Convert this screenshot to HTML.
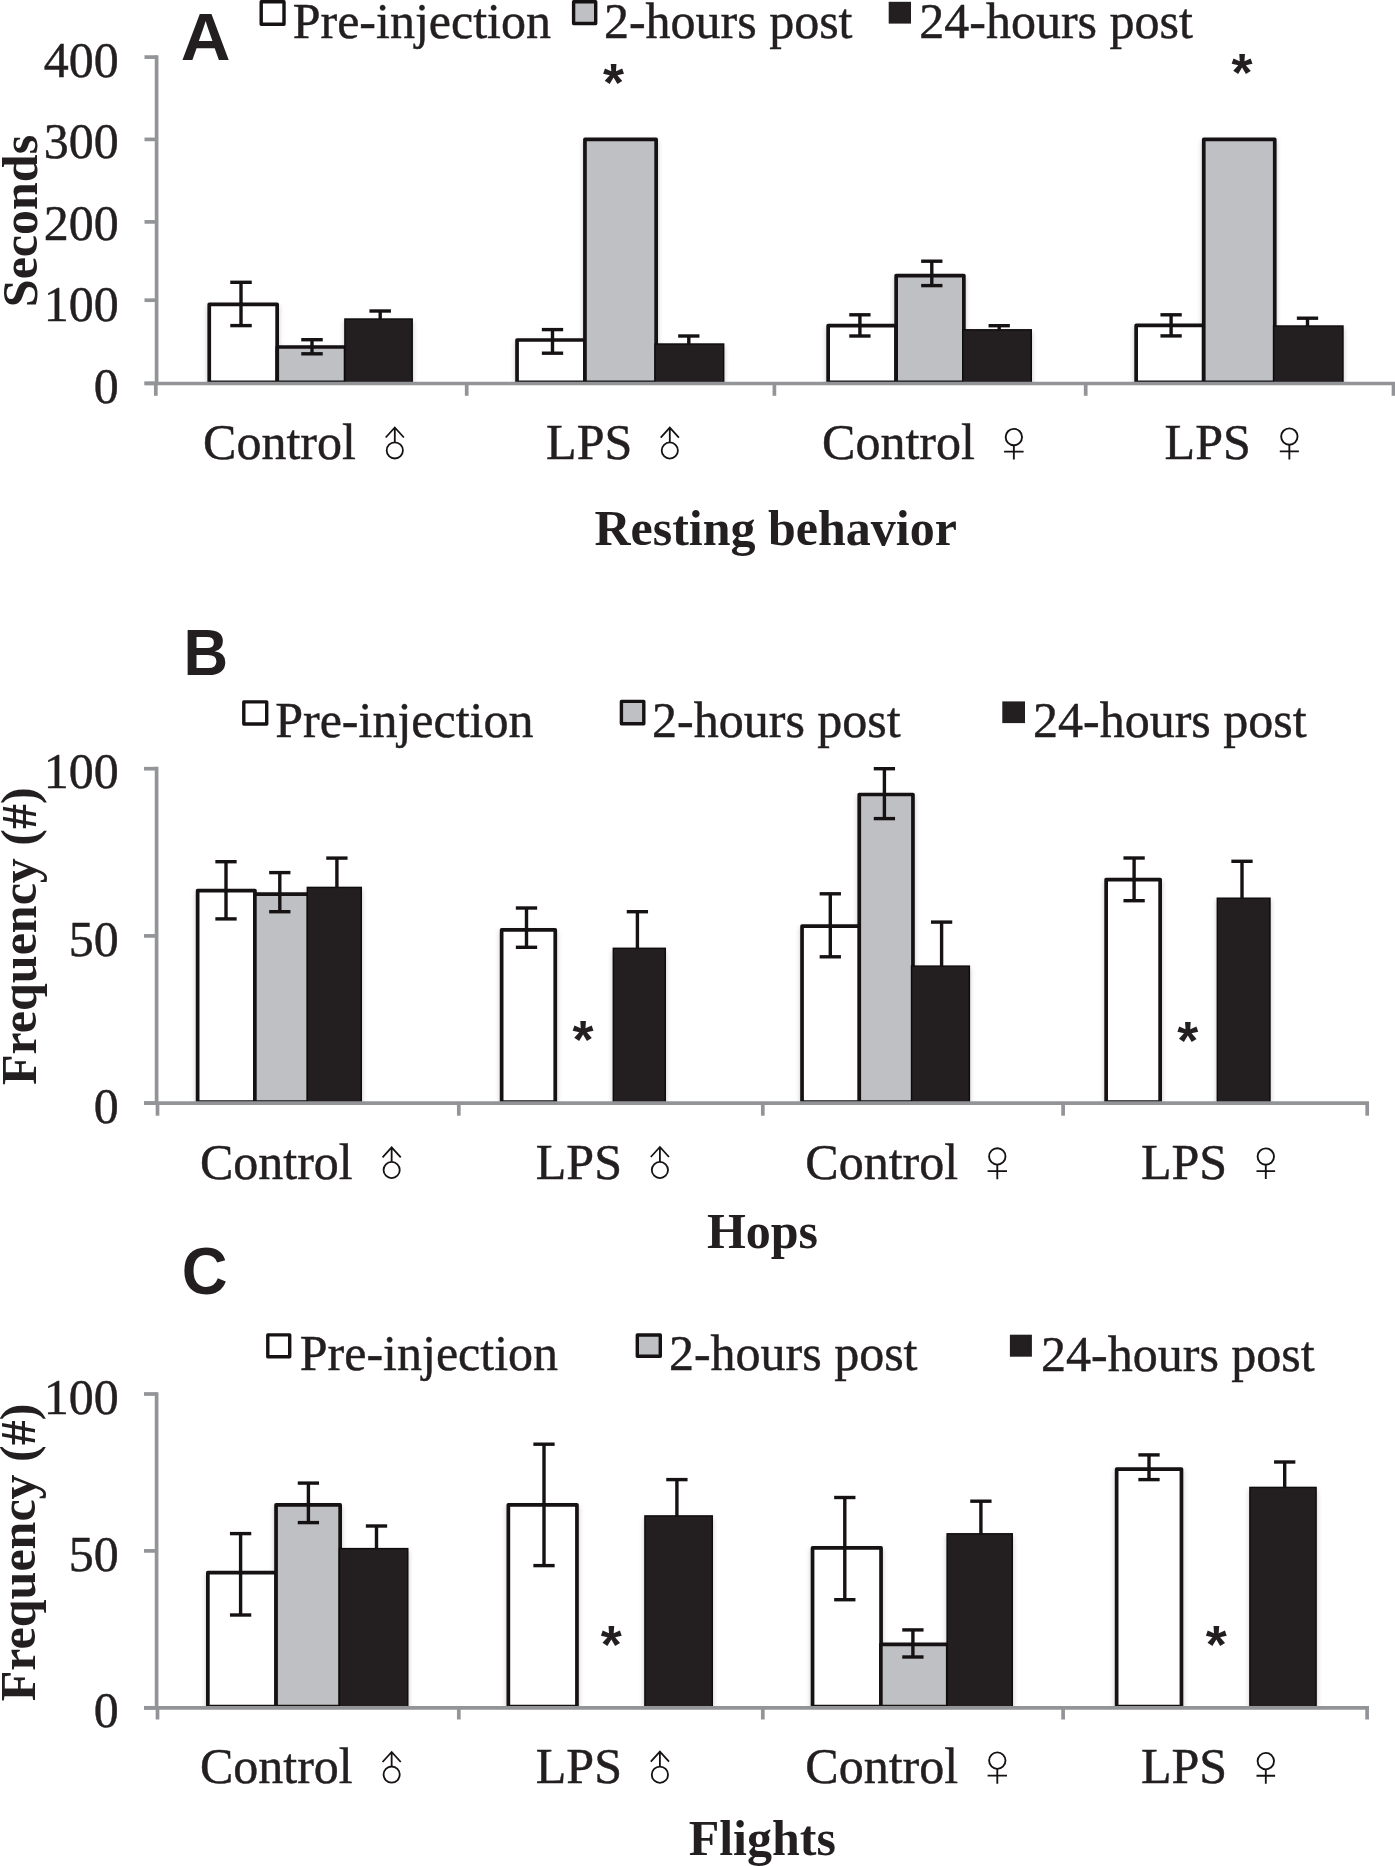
<!DOCTYPE html>
<html><head><meta charset="utf-8"><title>Sickness behavior figure</title>
<style>
html,body{margin:0;padding:0;background:#fff;}
body{width:1395px;height:1866px;overflow:hidden;font-family:"Liberation Serif",serif;}
svg{display:block;}
</style></head>
<body>
<svg width="1395" height="1866" viewBox="0 0 1395 1866">
<defs><filter id="sh" x="-10%" y="-10%" width="120%" height="120%"><feGaussianBlur stdDeviation="2.6"/></filter>
<clipPath id="shc"><rect x="0" y="0" width="1395" height="383"/><rect x="0" y="600" width="1395" height="502.5"/><rect x="0" y="1250" width="1395" height="457.3"/></clipPath></defs>
<rect x="0" y="0" width="1395" height="1866" fill="#ffffff"/>
<g clip-path="url(#shc)"><g filter="url(#sh)" fill="#000" fill-opacity="0.22"><rect x="207.40" y="305.45" width="71.60" height="79.95"/>
<rect x="275.40" y="348.15" width="72.00" height="37.25"/>
<rect x="344.20" y="321.30" width="68.70" height="65.95"/>
<rect x="515.20" y="341.15" width="71.50" height="44.25"/>
<rect x="583.10" y="140.55" width="74.90" height="244.85"/>
<rect x="654.30" y="346.30" width="70.10" height="40.95"/>
<rect x="826.30" y="326.85" width="71.60" height="58.55"/>
<rect x="894.30" y="276.75" width="71.40" height="108.65"/>
<rect x="962.00" y="332.10" width="70.00" height="55.15"/>
<rect x="1134.30" y="326.55" width="71.20" height="58.85"/>
<rect x="1201.90" y="140.55" width="74.70" height="244.85"/>
<rect x="1272.90" y="328.30" width="70.80" height="58.95"/>
<rect x="195.80" y="891.75" width="61.00" height="213.25"/>
<rect x="253.00" y="895.35" width="57.30" height="209.65"/>
<rect x="306.60" y="889.70" width="55.40" height="217.15"/>
<rect x="499.80" y="930.95" width="57.30" height="174.05"/>
<rect x="612.60" y="950.60" width="53.40" height="156.25"/>
<rect x="800.20" y="927.35" width="61.30" height="177.65"/>
<rect x="857.40" y="795.65" width="57.40" height="309.35"/>
<rect x="910.80" y="968.40" width="59.30" height="138.45"/>
<rect x="1104.30" y="880.75" width="57.70" height="224.25"/>
<rect x="1216.60" y="900.50" width="54.10" height="206.35"/>
<rect x="206.00" y="1573.85" width="72.00" height="135.85"/>
<rect x="274.20" y="1506.05" width="67.80" height="203.65"/>
<rect x="338.70" y="1550.90" width="69.80" height="160.65"/>
<rect x="506.50" y="1505.95" width="72.30" height="203.75"/>
<rect x="644.20" y="1518.20" width="68.80" height="193.35"/>
<rect x="810.70" y="1549.05" width="72.20" height="160.65"/>
<rect x="879.00" y="1645.45" width="70.60" height="64.25"/>
<rect x="946.40" y="1536.10" width="66.60" height="175.45"/>
<rect x="1114.80" y="1470.25" width="68.50" height="239.45"/>
<rect x="1249.20" y="1489.70" width="67.60" height="221.85"/></g></g>
<rect x="209.25" y="304.30" width="67.90" height="78.10" fill="#ffffff" stroke="#161213" stroke-width="3.7" stroke-linejoin="round"/>
<rect x="277.25" y="347.00" width="68.30" height="35.40" fill="#bfc0c3" stroke="#161213" stroke-width="3.7" stroke-linejoin="round"/>
<rect x="344.90" y="319.00" width="67.30" height="64.55" fill="#231f20" stroke="#0e0b0c" stroke-width="1.4"/>
<rect x="517.05" y="340.00" width="67.80" height="42.40" fill="#ffffff" stroke="#161213" stroke-width="3.7" stroke-linejoin="round"/>
<rect x="584.95" y="139.40" width="71.20" height="243.00" fill="#bfc0c3" stroke="#161213" stroke-width="3.7" stroke-linejoin="round"/>
<rect x="655.00" y="344.00" width="68.70" height="39.55" fill="#231f20" stroke="#0e0b0c" stroke-width="1.4"/>
<rect x="828.15" y="325.70" width="67.90" height="56.70" fill="#ffffff" stroke="#161213" stroke-width="3.7" stroke-linejoin="round"/>
<rect x="896.15" y="275.60" width="67.70" height="106.80" fill="#bfc0c3" stroke="#161213" stroke-width="3.7" stroke-linejoin="round"/>
<rect x="962.70" y="329.80" width="68.60" height="53.75" fill="#231f20" stroke="#0e0b0c" stroke-width="1.4"/>
<rect x="1136.15" y="325.40" width="67.50" height="57.00" fill="#ffffff" stroke="#161213" stroke-width="3.7" stroke-linejoin="round"/>
<rect x="1203.75" y="139.40" width="71.00" height="243.00" fill="#bfc0c3" stroke="#161213" stroke-width="3.7" stroke-linejoin="round"/>
<rect x="1273.60" y="326.00" width="69.40" height="57.55" fill="#231f20" stroke="#0e0b0c" stroke-width="1.4"/>
<rect x="197.65" y="890.60" width="57.30" height="211.40" fill="#ffffff" stroke="#161213" stroke-width="3.7" stroke-linejoin="round"/>
<rect x="254.85" y="894.20" width="53.60" height="207.80" fill="#bfc0c3" stroke="#161213" stroke-width="3.7" stroke-linejoin="round"/>
<rect x="307.30" y="887.40" width="54.00" height="215.75" fill="#231f20" stroke="#0e0b0c" stroke-width="1.4"/>
<rect x="501.65" y="929.80" width="53.60" height="172.20" fill="#ffffff" stroke="#161213" stroke-width="3.7" stroke-linejoin="round"/>
<rect x="613.30" y="948.30" width="52.00" height="154.85" fill="#231f20" stroke="#0e0b0c" stroke-width="1.4"/>
<rect x="802.05" y="926.20" width="57.60" height="175.80" fill="#ffffff" stroke="#161213" stroke-width="3.7" stroke-linejoin="round"/>
<rect x="859.25" y="794.50" width="53.70" height="307.50" fill="#bfc0c3" stroke="#161213" stroke-width="3.7" stroke-linejoin="round"/>
<rect x="911.50" y="966.10" width="57.90" height="137.05" fill="#231f20" stroke="#0e0b0c" stroke-width="1.4"/>
<rect x="1106.15" y="879.60" width="54.00" height="222.40" fill="#ffffff" stroke="#161213" stroke-width="3.7" stroke-linejoin="round"/>
<rect x="1217.30" y="898.20" width="52.70" height="204.95" fill="#231f20" stroke="#0e0b0c" stroke-width="1.4"/>
<rect x="207.85" y="1572.70" width="68.30" height="134.00" fill="#ffffff" stroke="#161213" stroke-width="3.7" stroke-linejoin="round"/>
<rect x="276.05" y="1504.90" width="64.10" height="201.80" fill="#bfc0c3" stroke="#161213" stroke-width="3.7" stroke-linejoin="round"/>
<rect x="339.40" y="1548.60" width="68.40" height="159.25" fill="#231f20" stroke="#0e0b0c" stroke-width="1.4"/>
<rect x="508.35" y="1504.80" width="68.60" height="201.90" fill="#ffffff" stroke="#161213" stroke-width="3.7" stroke-linejoin="round"/>
<rect x="644.90" y="1515.90" width="67.40" height="191.95" fill="#231f20" stroke="#0e0b0c" stroke-width="1.4"/>
<rect x="812.55" y="1547.90" width="68.50" height="158.80" fill="#ffffff" stroke="#161213" stroke-width="3.7" stroke-linejoin="round"/>
<rect x="880.85" y="1644.30" width="66.90" height="62.40" fill="#bfc0c3" stroke="#161213" stroke-width="3.7" stroke-linejoin="round"/>
<rect x="947.10" y="1533.80" width="65.20" height="174.05" fill="#231f20" stroke="#0e0b0c" stroke-width="1.4"/>
<rect x="1116.65" y="1469.10" width="64.80" height="237.60" fill="#ffffff" stroke="#161213" stroke-width="3.7" stroke-linejoin="round"/>
<rect x="1249.90" y="1487.40" width="66.20" height="220.45" fill="#231f20" stroke="#0e0b0c" stroke-width="1.4"/>
<line x1="156.60" y1="55.25" x2="156.60" y2="383.50" stroke="#939497" stroke-width="3.7" stroke-linecap="butt"/>
<line x1="144.50" y1="57.10" x2="156.60" y2="57.10" stroke="#939497" stroke-width="3.7" stroke-linecap="butt"/>
<line x1="144.50" y1="139.40" x2="156.60" y2="139.40" stroke="#939497" stroke-width="3.7" stroke-linecap="butt"/>
<line x1="144.50" y1="221.90" x2="156.60" y2="221.90" stroke="#939497" stroke-width="3.7" stroke-linecap="butt"/>
<line x1="144.50" y1="300.20" x2="156.60" y2="300.20" stroke="#939497" stroke-width="3.7" stroke-linecap="butt"/>
<line x1="144.50" y1="383.30" x2="156.60" y2="383.30" stroke="#939497" stroke-width="3.7" stroke-linecap="butt"/>
<line x1="144.50" y1="383.50" x2="1395.00" y2="383.50" stroke="#939497" stroke-width="3.7" stroke-linecap="butt"/>
<line x1="155.80" y1="383.50" x2="155.80" y2="395.80" stroke="#939497" stroke-width="3.7" stroke-linecap="butt"/>
<line x1="466.70" y1="383.50" x2="466.70" y2="395.80" stroke="#939497" stroke-width="3.7" stroke-linecap="butt"/>
<line x1="774.40" y1="383.50" x2="774.40" y2="395.80" stroke="#939497" stroke-width="3.7" stroke-linecap="butt"/>
<line x1="1085.70" y1="383.50" x2="1085.70" y2="395.80" stroke="#939497" stroke-width="3.7" stroke-linecap="butt"/>
<line x1="1393.50" y1="383.50" x2="1393.50" y2="395.80" stroke="#939497" stroke-width="3.7" stroke-linecap="butt"/>
<line x1="156.60" y1="766.85" x2="156.60" y2="1103.10" stroke="#939497" stroke-width="3.7" stroke-linecap="butt"/>
<line x1="144.00" y1="768.70" x2="156.60" y2="768.70" stroke="#939497" stroke-width="3.7" stroke-linecap="butt"/>
<line x1="144.00" y1="935.90" x2="156.60" y2="935.90" stroke="#939497" stroke-width="3.7" stroke-linecap="butt"/>
<line x1="144.00" y1="1103.10" x2="156.60" y2="1103.10" stroke="#939497" stroke-width="3.7" stroke-linecap="butt"/>
<line x1="144.00" y1="1103.10" x2="1369.00" y2="1103.10" stroke="#939497" stroke-width="3.7" stroke-linecap="butt"/>
<line x1="157.50" y1="1103.10" x2="157.50" y2="1115.70" stroke="#939497" stroke-width="3.7" stroke-linecap="butt"/>
<line x1="458.80" y1="1103.10" x2="458.80" y2="1115.70" stroke="#939497" stroke-width="3.7" stroke-linecap="butt"/>
<line x1="762.80" y1="1103.10" x2="762.80" y2="1115.70" stroke="#939497" stroke-width="3.7" stroke-linecap="butt"/>
<line x1="1063.10" y1="1103.10" x2="1063.10" y2="1115.70" stroke="#939497" stroke-width="3.7" stroke-linecap="butt"/>
<line x1="1367.20" y1="1103.10" x2="1367.20" y2="1115.70" stroke="#939497" stroke-width="3.7" stroke-linecap="butt"/>
<line x1="156.60" y1="1392.15" x2="156.60" y2="1707.80" stroke="#939497" stroke-width="3.7" stroke-linecap="butt"/>
<line x1="144.00" y1="1394.00" x2="156.60" y2="1394.00" stroke="#939497" stroke-width="3.7" stroke-linecap="butt"/>
<line x1="144.00" y1="1550.90" x2="156.60" y2="1550.90" stroke="#939497" stroke-width="3.7" stroke-linecap="butt"/>
<line x1="144.00" y1="1707.80" x2="156.60" y2="1707.80" stroke="#939497" stroke-width="3.7" stroke-linecap="butt"/>
<line x1="144.00" y1="1707.80" x2="1369.00" y2="1707.80" stroke="#939497" stroke-width="3.7" stroke-linecap="butt"/>
<line x1="157.50" y1="1707.80" x2="157.50" y2="1719.50" stroke="#939497" stroke-width="3.7" stroke-linecap="butt"/>
<line x1="458.80" y1="1707.80" x2="458.80" y2="1719.50" stroke="#939497" stroke-width="3.7" stroke-linecap="butt"/>
<line x1="762.80" y1="1707.80" x2="762.80" y2="1719.50" stroke="#939497" stroke-width="3.7" stroke-linecap="butt"/>
<line x1="1063.10" y1="1707.80" x2="1063.10" y2="1719.50" stroke="#939497" stroke-width="3.7" stroke-linecap="butt"/>
<line x1="1367.10" y1="1707.80" x2="1367.10" y2="1719.50" stroke="#939497" stroke-width="3.7" stroke-linecap="butt"/>
<text x="118.80" y="76.60" font-family="Liberation Serif" font-size="50" font-weight="normal" text-anchor="end" fill="#231f20" stroke="#231f20" stroke-width="0.45">400</text>
<text x="118.80" y="158.10" font-family="Liberation Serif" font-size="50" font-weight="normal" text-anchor="end" fill="#231f20" stroke="#231f20" stroke-width="0.45">300</text>
<text x="118.80" y="239.60" font-family="Liberation Serif" font-size="50" font-weight="normal" text-anchor="end" fill="#231f20" stroke="#231f20" stroke-width="0.45">200</text>
<text x="118.80" y="321.10" font-family="Liberation Serif" font-size="50" font-weight="normal" text-anchor="end" fill="#231f20" stroke="#231f20" stroke-width="0.45">100</text>
<text x="118.80" y="403.10" font-family="Liberation Serif" font-size="50" font-weight="normal" text-anchor="end" fill="#231f20" stroke="#231f20" stroke-width="0.45">0</text>
<line x1="241.00" y1="282.30" x2="241.00" y2="325.60" stroke="#161213" stroke-width="3.4" stroke-linecap="butt"/>
<line x1="230.25" y1="282.30" x2="251.75" y2="282.30" stroke="#161213" stroke-width="3.4" stroke-linecap="butt"/>
<line x1="230.25" y1="325.60" x2="251.75" y2="325.60" stroke="#161213" stroke-width="3.4" stroke-linecap="butt"/>
<line x1="312.00" y1="339.70" x2="312.00" y2="353.80" stroke="#161213" stroke-width="3.4" stroke-linecap="butt"/>
<line x1="301.25" y1="339.70" x2="322.75" y2="339.70" stroke="#161213" stroke-width="3.4" stroke-linecap="butt"/>
<line x1="301.25" y1="353.80" x2="322.75" y2="353.80" stroke="#161213" stroke-width="3.4" stroke-linecap="butt"/>
<line x1="380.20" y1="311.00" x2="380.20" y2="319.80" stroke="#161213" stroke-width="3.4" stroke-linecap="butt"/>
<line x1="369.45" y1="311.00" x2="390.95" y2="311.00" stroke="#161213" stroke-width="3.4" stroke-linecap="butt"/>
<line x1="552.50" y1="329.60" x2="552.50" y2="353.20" stroke="#161213" stroke-width="3.4" stroke-linecap="butt"/>
<line x1="541.85" y1="329.60" x2="563.15" y2="329.60" stroke="#161213" stroke-width="3.4" stroke-linecap="butt"/>
<line x1="541.85" y1="353.20" x2="563.15" y2="353.20" stroke="#161213" stroke-width="3.4" stroke-linecap="butt"/>
<line x1="688.80" y1="336.00" x2="688.80" y2="344.80" stroke="#161213" stroke-width="3.4" stroke-linecap="butt"/>
<line x1="678.15" y1="336.00" x2="699.45" y2="336.00" stroke="#161213" stroke-width="3.4" stroke-linecap="butt"/>
<line x1="859.90" y1="314.80" x2="859.90" y2="336.00" stroke="#161213" stroke-width="3.4" stroke-linecap="butt"/>
<line x1="849.25" y1="314.80" x2="870.55" y2="314.80" stroke="#161213" stroke-width="3.4" stroke-linecap="butt"/>
<line x1="849.25" y1="336.00" x2="870.55" y2="336.00" stroke="#161213" stroke-width="3.4" stroke-linecap="butt"/>
<line x1="931.80" y1="261.20" x2="931.80" y2="285.60" stroke="#161213" stroke-width="3.4" stroke-linecap="butt"/>
<line x1="921.15" y1="261.20" x2="942.45" y2="261.20" stroke="#161213" stroke-width="3.4" stroke-linecap="butt"/>
<line x1="921.15" y1="285.60" x2="942.45" y2="285.60" stroke="#161213" stroke-width="3.4" stroke-linecap="butt"/>
<line x1="999.20" y1="325.70" x2="999.20" y2="330.60" stroke="#161213" stroke-width="3.4" stroke-linecap="butt"/>
<line x1="988.55" y1="325.70" x2="1009.85" y2="325.70" stroke="#161213" stroke-width="3.4" stroke-linecap="butt"/>
<line x1="1171.10" y1="314.80" x2="1171.10" y2="335.90" stroke="#161213" stroke-width="3.4" stroke-linecap="butt"/>
<line x1="1160.45" y1="314.80" x2="1181.75" y2="314.80" stroke="#161213" stroke-width="3.4" stroke-linecap="butt"/>
<line x1="1160.45" y1="335.90" x2="1181.75" y2="335.90" stroke="#161213" stroke-width="3.4" stroke-linecap="butt"/>
<line x1="1307.50" y1="318.20" x2="1307.50" y2="326.80" stroke="#161213" stroke-width="3.4" stroke-linecap="butt"/>
<line x1="1296.85" y1="318.20" x2="1318.15" y2="318.20" stroke="#161213" stroke-width="3.4" stroke-linecap="butt"/>
<text x="613.55" y="101.20" font-family="Liberation Sans" font-size="54" font-weight="bold" text-anchor="middle" fill="#231f20" >*</text>
<text x="1241.95" y="90.80" font-family="Liberation Sans" font-size="54" font-weight="bold" text-anchor="middle" fill="#231f20" >*</text>
<rect x="261.20" y="1.70" width="22.80" height="22.60" fill="#ffffff" stroke="#161213" stroke-width="3.4" stroke-linejoin="round"/>
<rect x="573.60" y="1.70" width="22.10" height="21.80" fill="#bfc0c3" stroke="#161213" stroke-width="3.4" stroke-linejoin="round"/>
<rect x="888.70" y="1.80" width="22.30" height="21.80" fill="#231f20"/>
<text x="292.70" y="38.00" font-family="Liberation Serif" font-size="50" font-weight="normal" text-anchor="start" fill="#231f20" stroke="#231f20" stroke-width="0.45">Pre-injection</text>
<text x="603.90" y="37.90" font-family="Liberation Serif" font-size="50" font-weight="normal" text-anchor="start" fill="#231f20" stroke="#231f20" stroke-width="0.45">2-hours post</text>
<text x="919.30" y="37.90" font-family="Liberation Serif" font-size="50" font-weight="normal" text-anchor="start" fill="#231f20" stroke="#231f20" stroke-width="0.45">24-hours post</text>
<text transform="translate(180.7,59.8) scale(1.045,1)" font-family="Liberation Sans" font-size="66" font-weight="bold" fill="#231f20">A</text>
<text x="203.10" y="458.70" font-family="Liberation Serif" font-size="50" font-weight="normal" text-anchor="start" fill="#231f20" stroke="#231f20" stroke-width="0.45">Control</text>
<g fill="none" stroke="#161213" stroke-width="1.8" stroke-linejoin="miter"><circle cx="394.80" cy="450.40" r="8.10"/><path d="M394.80 442.30 L394.80 428.40 M385.70 437.50 L394.80 427.50 L403.90 437.50"/></g>
<text x="546.10" y="458.70" font-family="Liberation Serif" font-size="50" font-weight="normal" text-anchor="start" fill="#231f20" stroke="#231f20" stroke-width="0.45">LPS</text>
<g fill="none" stroke="#161213" stroke-width="1.8" stroke-linejoin="miter"><circle cx="669.80" cy="450.50" r="8.10"/><path d="M669.80 442.40 L669.80 428.50 M660.70 437.60 L669.80 427.60 L678.90 437.60"/></g>
<text x="822.10" y="458.70" font-family="Liberation Serif" font-size="50" font-weight="normal" text-anchor="start" fill="#231f20" stroke="#231f20" stroke-width="0.45">Control</text>
<g fill="none" stroke="#161213" stroke-width="1.85"><circle cx="1013.85" cy="437.02" r="8.20"/><path d="M1013.85 445.22 L1013.85 459.60 M1004.10 451.64 L1023.60 451.64"/></g>
<text x="1164.60" y="458.70" font-family="Liberation Serif" font-size="50" font-weight="normal" text-anchor="start" fill="#231f20" stroke="#231f20" stroke-width="0.45">LPS</text>
<g fill="none" stroke="#161213" stroke-width="1.85"><circle cx="1289.35" cy="436.52" r="8.20"/><path d="M1289.35 444.72 L1289.35 459.40 M1279.80 451.37 L1298.90 451.37"/></g>
<text x="775.70" y="545.30" font-family="Liberation Serif" font-size="50" font-weight="bold" text-anchor="middle" fill="#231f20" >Resting behavior</text>
<text transform="translate(37,221) rotate(-90)" font-family="Liberation Serif" font-size="50" font-weight="bold" text-anchor="middle" fill="#231f20">Seconds</text>
<text x="118.80" y="788.30" font-family="Liberation Serif" font-size="50" font-weight="normal" text-anchor="end" fill="#231f20" stroke="#231f20" stroke-width="0.45">100</text>
<text x="118.80" y="955.50" font-family="Liberation Serif" font-size="50" font-weight="normal" text-anchor="end" fill="#231f20" stroke="#231f20" stroke-width="0.45">50</text>
<text x="118.80" y="1122.70" font-family="Liberation Serif" font-size="50" font-weight="normal" text-anchor="end" fill="#231f20" stroke="#231f20" stroke-width="0.45">0</text>
<line x1="226.00" y1="861.70" x2="226.00" y2="918.90" stroke="#161213" stroke-width="3.4" stroke-linecap="butt"/>
<line x1="215.35" y1="861.70" x2="236.65" y2="861.70" stroke="#161213" stroke-width="3.4" stroke-linecap="butt"/>
<line x1="215.35" y1="918.90" x2="236.65" y2="918.90" stroke="#161213" stroke-width="3.4" stroke-linecap="butt"/>
<line x1="279.80" y1="872.60" x2="279.80" y2="911.70" stroke="#161213" stroke-width="3.4" stroke-linecap="butt"/>
<line x1="269.15" y1="872.60" x2="290.45" y2="872.60" stroke="#161213" stroke-width="3.4" stroke-linecap="butt"/>
<line x1="269.15" y1="911.70" x2="290.45" y2="911.70" stroke="#161213" stroke-width="3.4" stroke-linecap="butt"/>
<line x1="336.90" y1="858.10" x2="336.90" y2="888.20" stroke="#161213" stroke-width="3.4" stroke-linecap="butt"/>
<line x1="326.25" y1="858.10" x2="347.55" y2="858.10" stroke="#161213" stroke-width="3.4" stroke-linecap="butt"/>
<line x1="526.50" y1="908.00" x2="526.50" y2="947.30" stroke="#161213" stroke-width="3.4" stroke-linecap="butt"/>
<line x1="515.85" y1="908.00" x2="537.15" y2="908.00" stroke="#161213" stroke-width="3.4" stroke-linecap="butt"/>
<line x1="515.85" y1="947.30" x2="537.15" y2="947.30" stroke="#161213" stroke-width="3.4" stroke-linecap="butt"/>
<line x1="637.40" y1="911.70" x2="637.40" y2="949.10" stroke="#161213" stroke-width="3.4" stroke-linecap="butt"/>
<line x1="626.75" y1="911.70" x2="648.05" y2="911.70" stroke="#161213" stroke-width="3.4" stroke-linecap="butt"/>
<text x="583.00" y="1058.45" font-family="Liberation Sans" font-size="54" font-weight="bold" text-anchor="middle" fill="#231f20" >*</text>
<line x1="830.30" y1="893.80" x2="830.30" y2="956.80" stroke="#161213" stroke-width="3.4" stroke-linecap="butt"/>
<line x1="819.65" y1="893.80" x2="840.95" y2="893.80" stroke="#161213" stroke-width="3.4" stroke-linecap="butt"/>
<line x1="819.65" y1="956.80" x2="840.95" y2="956.80" stroke="#161213" stroke-width="3.4" stroke-linecap="butt"/>
<line x1="884.40" y1="768.70" x2="884.40" y2="818.60" stroke="#161213" stroke-width="3.4" stroke-linecap="butt"/>
<line x1="873.75" y1="768.70" x2="895.05" y2="768.70" stroke="#161213" stroke-width="3.4" stroke-linecap="butt"/>
<line x1="873.75" y1="818.60" x2="895.05" y2="818.60" stroke="#161213" stroke-width="3.4" stroke-linecap="butt"/>
<line x1="941.60" y1="922.10" x2="941.60" y2="966.90" stroke="#161213" stroke-width="3.4" stroke-linecap="butt"/>
<line x1="930.95" y1="922.10" x2="952.25" y2="922.10" stroke="#161213" stroke-width="3.4" stroke-linecap="butt"/>
<line x1="1134.10" y1="858.00" x2="1134.10" y2="900.70" stroke="#161213" stroke-width="3.4" stroke-linecap="butt"/>
<line x1="1123.45" y1="858.00" x2="1144.75" y2="858.00" stroke="#161213" stroke-width="3.4" stroke-linecap="butt"/>
<line x1="1123.45" y1="900.70" x2="1144.75" y2="900.70" stroke="#161213" stroke-width="3.4" stroke-linecap="butt"/>
<line x1="1242.00" y1="861.30" x2="1242.00" y2="899.00" stroke="#161213" stroke-width="3.4" stroke-linecap="butt"/>
<line x1="1231.35" y1="861.30" x2="1252.65" y2="861.30" stroke="#161213" stroke-width="3.4" stroke-linecap="butt"/>
<text x="1187.80" y="1058.75" font-family="Liberation Sans" font-size="54" font-weight="bold" text-anchor="middle" fill="#231f20" >*</text>
<rect x="243.80" y="701.90" width="22.90" height="22.10" fill="#ffffff" stroke="#161213" stroke-width="3.4" stroke-linejoin="round"/>
<rect x="621.40" y="701.40" width="22.40" height="22.40" fill="#bfc0c3" stroke="#161213" stroke-width="3.4" stroke-linejoin="round"/>
<rect x="1002.30" y="701.40" width="22.70" height="21.70" fill="#231f20"/>
<text x="275.20" y="737.20" font-family="Liberation Serif" font-size="50" font-weight="normal" text-anchor="start" fill="#231f20" stroke="#231f20" stroke-width="0.45">Pre-injection</text>
<text x="652.10" y="737.40" font-family="Liberation Serif" font-size="50" font-weight="normal" text-anchor="start" fill="#231f20" stroke="#231f20" stroke-width="0.45">2-hours post</text>
<text x="1033.00" y="737.30" font-family="Liberation Serif" font-size="50" font-weight="normal" text-anchor="start" fill="#231f20" stroke="#231f20" stroke-width="0.45">24-hours post</text>
<text transform="translate(183.4,675.1) scale(0.965,1)" font-family="Liberation Sans" font-size="64" font-weight="bold" fill="#231f20">B</text>
<text x="199.90" y="1178.50" font-family="Liberation Serif" font-size="50" font-weight="normal" text-anchor="start" fill="#231f20" stroke="#231f20" stroke-width="0.45">Control</text>
<g fill="none" stroke="#161213" stroke-width="1.8" stroke-linejoin="miter"><circle cx="391.65" cy="1170.00" r="8.10"/><path d="M391.65 1161.90 L391.65 1148.20 M382.55 1157.30 L391.65 1147.30 L400.75 1157.30"/></g>
<text x="535.80" y="1178.50" font-family="Liberation Serif" font-size="50" font-weight="normal" text-anchor="start" fill="#231f20" stroke="#231f20" stroke-width="0.45">LPS</text>
<g fill="none" stroke="#161213" stroke-width="1.8" stroke-linejoin="miter"><circle cx="659.90" cy="1170.00" r="8.10"/><path d="M659.90 1161.90 L659.90 1147.90 M650.80 1157.00 L659.90 1147.00 L669.00 1157.00"/></g>
<text x="805.30" y="1178.50" font-family="Liberation Serif" font-size="50" font-weight="normal" text-anchor="start" fill="#231f20" stroke="#231f20" stroke-width="0.45">Control</text>
<g fill="none" stroke="#161213" stroke-width="1.85"><circle cx="997.30" cy="1156.42" r="8.20"/><path d="M997.30 1164.62 L997.30 1179.20 M987.60 1171.19 L1007.00 1171.19"/></g>
<text x="1140.90" y="1178.50" font-family="Liberation Serif" font-size="50" font-weight="normal" text-anchor="start" fill="#231f20" stroke="#231f20" stroke-width="0.45">LPS</text>
<g fill="none" stroke="#161213" stroke-width="1.85"><circle cx="1265.80" cy="1156.53" r="8.20"/><path d="M1265.80 1164.73 L1265.80 1179.10 M1256.50 1171.14 L1275.10 1171.14"/></g>
<text x="762.50" y="1247.60" font-family="Liberation Serif" font-size="50" font-weight="bold" text-anchor="middle" fill="#231f20" >Hops</text>
<text transform="translate(35.6,936.2) rotate(-90)" font-family="Liberation Serif" font-size="50" font-weight="bold" text-anchor="middle" fill="#231f20">Frequency (#)</text>
<text x="118.80" y="1413.60" font-family="Liberation Serif" font-size="50" font-weight="normal" text-anchor="end" fill="#231f20" stroke="#231f20" stroke-width="0.45">100</text>
<text x="118.80" y="1570.50" font-family="Liberation Serif" font-size="50" font-weight="normal" text-anchor="end" fill="#231f20" stroke="#231f20" stroke-width="0.45">50</text>
<text x="118.80" y="1727.40" font-family="Liberation Serif" font-size="50" font-weight="normal" text-anchor="end" fill="#231f20" stroke="#231f20" stroke-width="0.45">0</text>
<line x1="240.60" y1="1533.60" x2="240.60" y2="1615.00" stroke="#161213" stroke-width="3.4" stroke-linecap="butt"/>
<line x1="229.95" y1="1533.60" x2="251.25" y2="1533.60" stroke="#161213" stroke-width="3.4" stroke-linecap="butt"/>
<line x1="229.95" y1="1615.00" x2="251.25" y2="1615.00" stroke="#161213" stroke-width="3.4" stroke-linecap="butt"/>
<line x1="308.40" y1="1483.10" x2="308.40" y2="1522.60" stroke="#161213" stroke-width="3.4" stroke-linecap="butt"/>
<line x1="297.75" y1="1483.10" x2="319.05" y2="1483.10" stroke="#161213" stroke-width="3.4" stroke-linecap="butt"/>
<line x1="297.75" y1="1522.60" x2="319.05" y2="1522.60" stroke="#161213" stroke-width="3.4" stroke-linecap="butt"/>
<line x1="376.50" y1="1526.00" x2="376.50" y2="1549.40" stroke="#161213" stroke-width="3.4" stroke-linecap="butt"/>
<line x1="365.85" y1="1526.00" x2="387.15" y2="1526.00" stroke="#161213" stroke-width="3.4" stroke-linecap="butt"/>
<line x1="544.00" y1="1444.20" x2="544.00" y2="1565.60" stroke="#161213" stroke-width="3.4" stroke-linecap="butt"/>
<line x1="533.35" y1="1444.20" x2="554.65" y2="1444.20" stroke="#161213" stroke-width="3.4" stroke-linecap="butt"/>
<line x1="533.35" y1="1565.60" x2="554.65" y2="1565.60" stroke="#161213" stroke-width="3.4" stroke-linecap="butt"/>
<line x1="676.90" y1="1479.60" x2="676.90" y2="1516.70" stroke="#161213" stroke-width="3.4" stroke-linecap="butt"/>
<line x1="666.25" y1="1479.60" x2="687.55" y2="1479.60" stroke="#161213" stroke-width="3.4" stroke-linecap="butt"/>
<text x="611.15" y="1662.55" font-family="Liberation Sans" font-size="54" font-weight="bold" text-anchor="middle" fill="#231f20" >*</text>
<line x1="844.80" y1="1497.50" x2="844.80" y2="1599.70" stroke="#161213" stroke-width="3.4" stroke-linecap="butt"/>
<line x1="834.15" y1="1497.50" x2="855.45" y2="1497.50" stroke="#161213" stroke-width="3.4" stroke-linecap="butt"/>
<line x1="834.15" y1="1599.70" x2="855.45" y2="1599.70" stroke="#161213" stroke-width="3.4" stroke-linecap="butt"/>
<line x1="912.90" y1="1629.90" x2="912.90" y2="1657.00" stroke="#161213" stroke-width="3.4" stroke-linecap="butt"/>
<line x1="902.25" y1="1629.90" x2="923.55" y2="1629.90" stroke="#161213" stroke-width="3.4" stroke-linecap="butt"/>
<line x1="902.25" y1="1657.00" x2="923.55" y2="1657.00" stroke="#161213" stroke-width="3.4" stroke-linecap="butt"/>
<line x1="980.90" y1="1501.20" x2="980.90" y2="1534.60" stroke="#161213" stroke-width="3.4" stroke-linecap="butt"/>
<line x1="970.25" y1="1501.20" x2="991.55" y2="1501.20" stroke="#161213" stroke-width="3.4" stroke-linecap="butt"/>
<line x1="1149.00" y1="1454.90" x2="1149.00" y2="1479.60" stroke="#161213" stroke-width="3.4" stroke-linecap="butt"/>
<line x1="1138.35" y1="1454.90" x2="1159.65" y2="1454.90" stroke="#161213" stroke-width="3.4" stroke-linecap="butt"/>
<line x1="1138.35" y1="1479.60" x2="1159.65" y2="1479.60" stroke="#161213" stroke-width="3.4" stroke-linecap="butt"/>
<line x1="1284.70" y1="1462.00" x2="1284.70" y2="1488.20" stroke="#161213" stroke-width="3.4" stroke-linecap="butt"/>
<line x1="1274.05" y1="1462.00" x2="1295.35" y2="1462.00" stroke="#161213" stroke-width="3.4" stroke-linecap="butt"/>
<text x="1216.15" y="1662.65" font-family="Liberation Sans" font-size="54" font-weight="bold" text-anchor="middle" fill="#231f20" >*</text>
<rect x="267.80" y="1334.90" width="21.90" height="21.90" fill="#ffffff" stroke="#161213" stroke-width="3.4" stroke-linejoin="round"/>
<rect x="637.30" y="1335.00" width="23.00" height="21.20" fill="#bfc0c3" stroke="#161213" stroke-width="3.4" stroke-linejoin="round"/>
<rect x="1009.90" y="1334.70" width="22.00" height="22.00" fill="#231f20"/>
<text x="299.80" y="1370.30" font-family="Liberation Serif" font-size="50" font-weight="normal" text-anchor="start" fill="#231f20" stroke="#231f20" stroke-width="0.45">Pre-injection</text>
<text x="668.90" y="1370.20" font-family="Liberation Serif" font-size="50" font-weight="normal" text-anchor="start" fill="#231f20" stroke="#231f20" stroke-width="0.45">2-hours post</text>
<text x="1041.10" y="1370.60" font-family="Liberation Serif" font-size="50" font-weight="normal" text-anchor="start" fill="#231f20" stroke="#231f20" stroke-width="0.45">24-hours post</text>
<text transform="translate(181.7,1294.3) scale(0.94,1)" font-family="Liberation Sans" font-size="67.5" font-weight="bold" fill="#231f20">C</text>
<text x="199.90" y="1783.00" font-family="Liberation Serif" font-size="50" font-weight="normal" text-anchor="start" fill="#231f20" stroke="#231f20" stroke-width="0.45">Control</text>
<g fill="none" stroke="#161213" stroke-width="1.8" stroke-linejoin="miter"><circle cx="391.65" cy="1774.60" r="8.10"/><path d="M391.65 1766.50 L391.65 1752.90 M382.55 1762.00 L391.65 1752.00 L400.75 1762.00"/></g>
<text x="535.80" y="1783.00" font-family="Liberation Serif" font-size="50" font-weight="normal" text-anchor="start" fill="#231f20" stroke="#231f20" stroke-width="0.45">LPS</text>
<g fill="none" stroke="#161213" stroke-width="1.8" stroke-linejoin="miter"><circle cx="659.90" cy="1774.70" r="8.10"/><path d="M659.90 1766.60 L659.90 1752.50 M650.80 1761.60 L659.90 1751.60 L669.00 1761.60"/></g>
<text x="805.30" y="1783.00" font-family="Liberation Serif" font-size="50" font-weight="normal" text-anchor="start" fill="#231f20" stroke="#231f20" stroke-width="0.45">Control</text>
<g fill="none" stroke="#161213" stroke-width="1.85"><circle cx="997.30" cy="1760.62" r="8.20"/><path d="M997.30 1768.83 L997.30 1783.70 M987.60 1775.62 L1007.00 1775.62"/></g>
<text x="1140.90" y="1783.00" font-family="Liberation Serif" font-size="50" font-weight="normal" text-anchor="start" fill="#231f20" stroke="#231f20" stroke-width="0.45">LPS</text>
<g fill="none" stroke="#161213" stroke-width="1.85"><circle cx="1265.80" cy="1761.12" r="8.20"/><path d="M1265.80 1769.33 L1265.80 1783.70 M1256.50 1775.74 L1275.10 1775.74"/></g>
<text x="762.30" y="1855.20" font-family="Liberation Serif" font-size="50" font-weight="bold" text-anchor="middle" fill="#231f20" >Flights</text>
<text transform="translate(35.2,1552.4) rotate(-90)" font-family="Liberation Serif" font-size="50" font-weight="bold" text-anchor="middle" fill="#231f20">Frequency (#)</text>
</svg>
</body></html>
